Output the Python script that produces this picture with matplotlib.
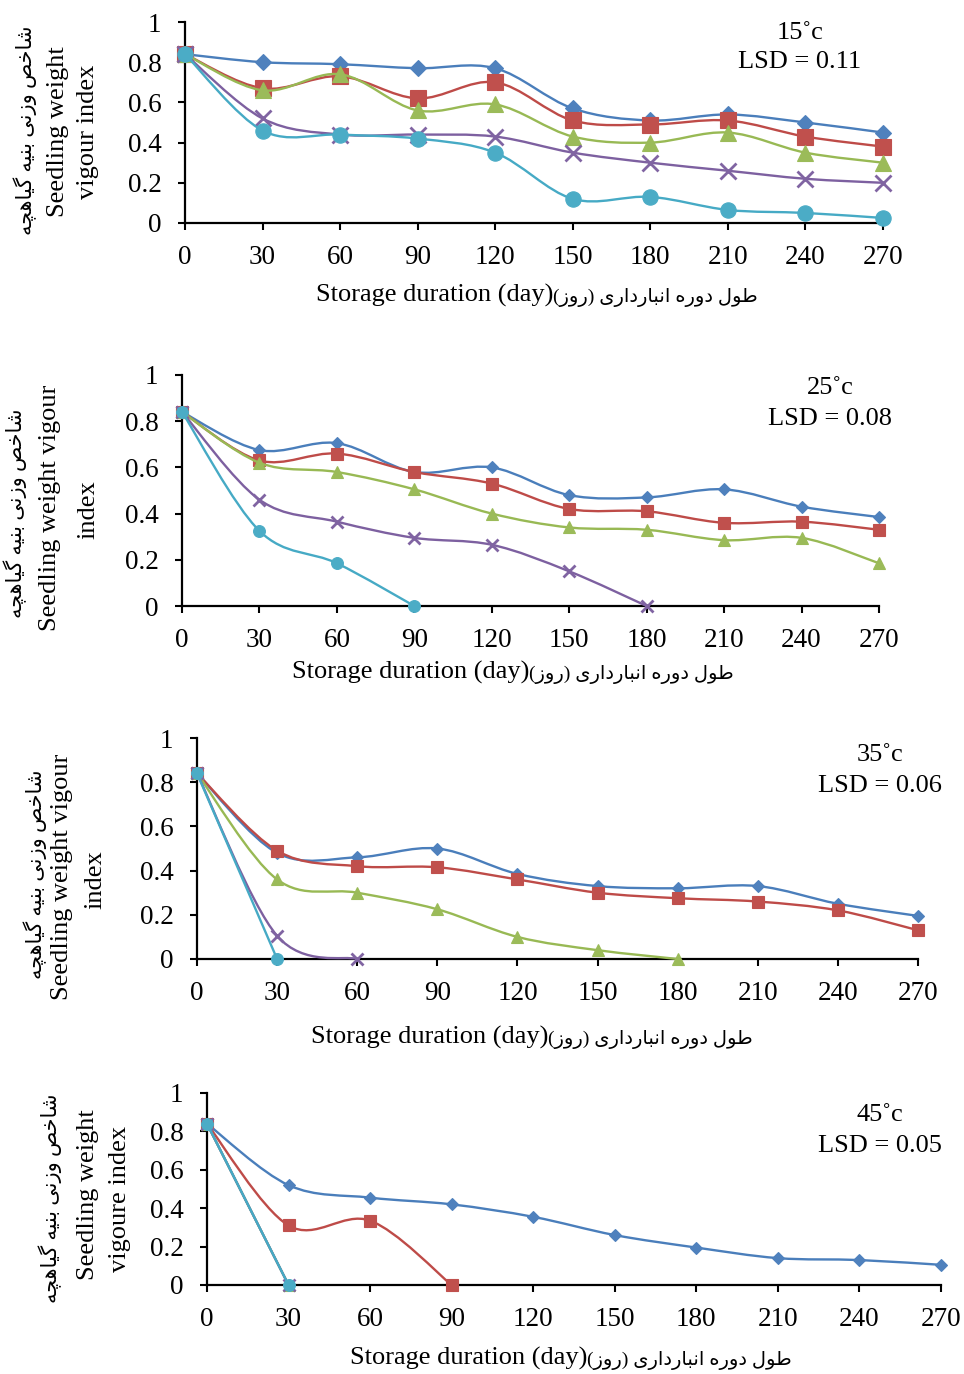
import numpy as np
import matplotlib
matplotlib.use("Agg")
import matplotlib.pyplot as plt
from matplotlib.path import Path
from matplotlib.patches import PathPatch

W, H = 964, 1374

days = [0, 30, 60, 90, 120, 150, 180, 210, 240, 270]
yticks = [0, 0.2, 0.4, 0.6, 0.8, 1]
ytick_labels = ["0", "0.2", "0.4", "0.6", "0.8", "1"]

temps = ["15˚c", "25˚c", "35˚c", "45˚c"]
lsd = ["LSD = 0.11", "LSD = 0.08", "LSD = 0.06", "LSD = 0.05"]

# five seed lots per storage temperature (series end where the index reaches zero)
t15_blue = [0.84, 0.80, 0.79, 0.77, 0.77, 0.57, 0.51, 0.54, 0.50, 0.45]
t15_red = [0.84, 0.67, 0.73, 0.62, 0.70, 0.51, 0.49, 0.51, 0.43, 0.38]
t15_green = [0.84, 0.66, 0.74, 0.56, 0.59, 0.43, 0.40, 0.45, 0.35, 0.30]
t15_purple = [0.84, 0.52, 0.44, 0.44, 0.43, 0.35, 0.30, 0.26, 0.22, 0.20]
t15_cyan = [0.84, 0.46, 0.44, 0.42, 0.35, 0.12, 0.13, 0.065, 0.05, 0.025]

t25_blue = [0.84, 0.675, 0.705, 0.58, 0.60, 0.48, 0.47, 0.505, 0.43, 0.385]
t25_red = [0.84, 0.63, 0.66, 0.58, 0.53, 0.42, 0.41, 0.36, 0.365, 0.33]
t25_green = [0.84, 0.62, 0.58, 0.505, 0.40, 0.34, 0.33, 0.285, 0.295, 0.185]
t25_purple = [0.84, 0.46, 0.365, 0.295, 0.265, 0.15, 0.0]
t25_cyan = [0.84, 0.325, 0.185, 0.0]

t35_blue = [0.84, 0.48, 0.46, 0.50, 0.385, 0.33, 0.32, 0.33, 0.25, 0.195]
t35_red = [0.84, 0.49, 0.42, 0.415, 0.36, 0.30, 0.275, 0.26, 0.22, 0.13]
t35_green = [0.84, 0.36, 0.30, 0.225, 0.10, 0.04, 0.0]
t35_purple = [0.84, 0.105, 0.0]
t35_cyan = [0.84, 0.0]

t45_blue = [0.84, 0.52, 0.455, 0.42, 0.355, 0.26, 0.195, 0.14, 0.13, 0.105]
t45_red = [0.84, 0.31, 0.335, 0.0]
t45_green = [0.84, 0.0]
t45_purple = [0.84, 0.0]
t45_cyan = [0.84, 0.0]

panels = [
    [t15_blue, t15_red, t15_green, t15_purple, t15_cyan],
    [t25_blue, t25_red, t25_green, t25_purple, t25_cyan],
    [t35_blue, t35_red, t35_green, t35_purple, t35_cyan],
    [t45_blue, t45_red, t45_green, t45_purple, t45_cyan],
]

line_colors = ["#4a7ebb", "#be4b48", "#98b954", "#7d60a0", "#46aac5"]
marker_colors = ["#4f81bd", "#c0504d", "#9bbb59", "#8064a2", "#4bacc6"]
markers = ["D", "s", "^", "x", "o"]
marker_sizes = [6.5, 8.5, 8.5, 8.5, 8.5]

# axes boxes in pixels: left, right, top, bottom
boxes = [(185, 883, 22, 223), (182, 879, 375, 606),
         (197, 918, 738, 959), (207, 941, 1093, 1285)]
marker_scale = [1.3, 1.0, 1.0, 1.0]

# --- minimal Persian shaping (presentation forms, visual order) ---
FORMS = {
    "ا": ("\uFE8D", "\uFE8E", None, None),
    "ب": ("\uFE8F", "\uFE90", "\uFE91", "\uFE92"),
    "خ": ("\uFEA5", "\uFEA6", "\uFEA7", "\uFEA8"),
    "د": ("\uFEA9", "\uFEAA", None, None),
    "ر": ("\uFEAD", "\uFEAE", None, None),
    "ز": ("\uFEAF", "\uFEB0", None, None),
    "ش": ("\uFEB5", "\uFEB6", "\uFEB7", "\uFEB8"),
    "ص": ("\uFEB9", "\uFEBA", "\uFEBB", "\uFEBC"),
    "ط": ("\uFEC1", "\uFEC2", "\uFEC3", "\uFEC4"),
    "ل": ("\uFEDD", "\uFEDE", "\uFEDF", "\uFEE0"),
    "ن": ("\uFEE5", "\uFEE6", "\uFEE7", "\uFEE8"),
    "ه": ("\uFEE9", "\uFEEA", "\uFEEB", "\uFEEC"),
    "و": ("\uFEED", "\uFEEE", None, None),
    "ی": ("\uFBFC", "\uFBFD", "\uFBFE", "\uFBFF"),
    "گ": ("\uFB92", "\uFB93", "\uFB94", "\uFB95"),
    "چ": ("\uFB7A", "\uFB7B", "\uFB7C", "\uFB7D"),
}


def joins_forward(c):
    return c in FORMS and FORMS[c][2] is not None


def shape_fa(text):
    out = []
    for i, c in enumerate(text):
        if c not in FORMS:
            out.append(c)
            continue
        prev = text[i - 1] if i > 0 else ""
        nxt = text[i + 1] if i + 1 < len(text) else ""
        jp = joins_forward(prev)
        jn = joins_forward(c) and nxt in FORMS
        iso, fin, ini, med = FORMS[c]
        if jp and jn:
            out.append(med)
        elif jp:
            out.append(fin)
        elif jn:
            out.append(ini)
        else:
            out.append(iso)
    return "".join(reversed(out))


fa_ylabel = shape_fa("شاخص وزنی بنیه گیاهچه")
fa_xlabel = "(" + shape_fa("روز") + ") " + shape_fa("طول دوره انبارداری")
en_xlabel = "Storage duration (day)"

ylabel_lines = [
    ["Seedling weight", "vigour index"],
    ["Seedling weight vigour", "index"],
    ["Seedling weight vigour", "index"],
    ["Seedling weight", "vigoure index"],
]
# label anchors in pixels
fa_pos = [(25, 130), (15, 513), (35, 874), (50, 1198)]
en_pos = [[(58, 132), (88, 132)], [(50, 508), (88, 510)],
          [(62, 877), (95, 880)], [(88, 1195), (120, 1199)]]
# x label: split point between english and persian parts, baseline y
xlab_pos = [(553, 302), (529, 679), (548, 1044), (587, 1365)]
note_pos = [(800, 33, 62), (830, 388, 419), (880, 755, 786), (880, 1115, 1146)]

SERIF = ["Liberation Serif", "DejaVu Sans"]
plt.rcParams["font.family"] = SERIF


def fx(px):
    return px / W


def fy(py):
    return 1 - py / H


def smooth_path(x, y):
    pts = np.column_stack([x, y]).astype(float)
    verts = [pts[0]]
    codes = [Path.MOVETO]
    n = len(pts)
    for i in range(n - 1):
        p0 = pts[i - 1] if i > 0 else pts[i]
        p1, p2 = pts[i], pts[i + 1]
        p3 = pts[i + 2] if i + 2 < n else pts[i + 1]
        verts += [p1 + (p2 - p0) / 6, p2 - (p3 - p1) / 6, p2]
        codes += [Path.CURVE4] * 3
    return Path(verts, codes)


fig = plt.figure(figsize=(W / 100, H / 100), dpi=100)

for k, series in enumerate(panels):
    l, r, t, b = boxes[k]
    ax = fig.add_axes([fx(l), fy(b), (r - l) / W, (b - t) / H])
    ax.set_xlim(0, 270)
    ax.set_ylim(0, 1)
    for s, vals in enumerate(series):
        xs = days[:len(vals)]
        patch = PathPatch(smooth_path(xs, vals), facecolor="none",
                          edgecolor=line_colors[s], lw=1.7,
                          clip_on=False, zorder=3 + 2 * s)
        ax.add_patch(patch)
        ms = marker_sizes[s] * marker_scale[k]
        ax.plot(xs, vals, ls="none", marker=markers[s], ms=ms,
                color=marker_colors[s], mec=marker_colors[s],
                mew=2.0 if markers[s] == "x" else 0.8,
                clip_on=False, zorder=4 + 2 * s)

    for side in ["top", "right"]:
        ax.spines[side].set_visible(False)
    for side in ["left", "bottom"]:
        ax.spines[side].set_linewidth(1.6)
        ax.spines[side].set_color("black")
    ax.set_xticks(days)
    ax.set_xticklabels([str(d) for d in days])
    ax.set_yticks(yticks)
    ax.set_yticklabels(ytick_labels)
    ax.tick_params(direction="out", length=5, width=1.5, labelsize=19.5,
                   colors="black")
    ax.tick_params(axis="y", pad=12)
    ax.tick_params(axis="x", pad=10.5)

    fig.text(fx(fa_pos[k][0]), fy(fa_pos[k][1]), fa_ylabel, rotation=90,
             ha="center", va="center", fontsize=15, family=SERIF)
    for line, (px, py) in zip(ylabel_lines[k], en_pos[k]):
        fig.text(fx(px), fy(py), line, rotation=90, ha="center",
                 va="center", fontsize=19)
    sx, sy = xlab_pos[k]
    fig.text(fx(sx), fy(sy), en_xlabel, ha="right", va="baseline",
             fontsize=19)
    fig.text(fx(sx), fy(sy), fa_xlabel, ha="left", va="baseline",
             fontsize=14, family=SERIF)
    nx, ny1, ny2 = note_pos[k]
    fig.text(fx(nx), fy(ny1), temps[k], ha="center", va="center",
             fontsize=19)
    fig.text(fx(nx), fy(ny2), lsd[k], ha="center", va="center",
             fontsize=19)

fig.savefig("out.png", dpi=100)
